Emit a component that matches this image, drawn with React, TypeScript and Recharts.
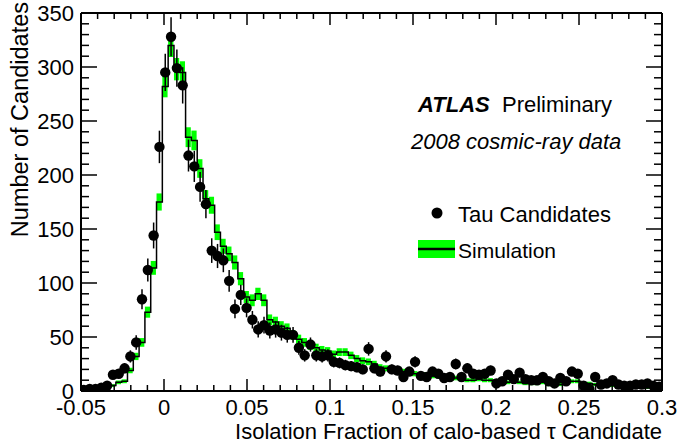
import React from 'react';
import { ComposedChart, XAxis, YAxis, Bar, Line, Scatter, ErrorBar } from 'recharts';

// histogram binning: 100 bins from -0.05 to 0.3
const binLow = -0.05;
const binWidth = 0.0035;

// observed tau candidates per bin
const dataCounts = [
    1, 2, 2, 3, 5, 15, 16, 21, 32, 45,
    85, 112, 144, 226, 295, 328, 299, 283, 218, 208,
    189, 173, 130, 125, 121, 102, 76, 89, 77, 66,
    57, 61, 56, 57, 54, 52, 52, 40, 33, 43,
    33, 32, 33, 27, 26, 24, 23, 22, 20, 39,
    21, 18, 32, 20, 19, 13, 18, 27, 14, 13,
    18, 16, 12, 13, 25, 13, 21, 16, 15, 16,
    19, 7, 9, 15, 11, 17, 11, 10, 10, 13,
    9, 7, 12, 9, 18, 16, 5, 2, 13, 6,
    7, 10, 6, 5, 5, 6, 6, 7, 5, 4,
];

// simulation (normalised) per bin
const simCounts = [
    1, 1, 2, 2, 3, 5, 8, 9, 19, 32,
    45, 73, 114, 175, 282, 320, 298, 295, 235, 232,
    206, 178, 172, 147, 134, 127, 119, 104, 87, 84,
    90, 84, 66, 64, 60, 58, 52, 48, 45, 42,
    40, 38, 37, 34, 36, 36, 33, 30, 28, 27,
    25, 22, 21, 20, 19, 18, 17, 16, 15, 15,
    14, 14, 13, 12, 12, 11, 10, 10, 11, 10,
    10, 9, 9, 8, 9, 8, 7, 7, 7, 8,
    6, 6, 6, 7, 9, 9, 7, 7, 6, 5,
    5, 5, 4, 4, 4, 4, 3, 3, 3, 3,
];

const xMajorTicks = [-0.05, 0, 0.05, 0.1, 0.15, 0.2, 0.25, 0.3];
const xTickLabels = ['-0.05', '0', '0.05', '0.1', '0.15', '0.2', '0.25', '0.3'];
const yMajorTicks = [0, 50, 100, 150, 200, 250, 300, 350];

const FONT = '"Liberation Sans", Arial, Helvetica, sans-serif';

const rows = dataCounts.map((n, i) => {
    const s = simCounts[i];
    const se = 0.6 * Math.sqrt(s);
    return {
        x: binLow + binWidth * (i + 0.5),
        data: n,
        err: Math.sqrt(n),
        sim: s,
        band: [s - se, s + se],
    };
});

// 4 minor ticks between majors
const withMinors = (majors: number[]) => {
    const out: number[] = [];
    majors.forEach((m, i) => {
        out.push(m);
        if (i < majors.length - 1) {
            const step = (majors[i + 1] - m) / 5;
            for (let k = 1; k < 5; k++) out.push(m + step * k);
        }
    });
    return out;
};
const xTicks = withMinors(xMajorTicks);
const yTicks = withMinors(yMajorTicks);

const majorIndex = (v: number, majors: number[]) =>
    majors.findIndex(m => Math.abs(m - v) < 1e-9);

const BottomTick = (props: any) => {
    const { x, y, payload } = props;
    const idx = majorIndex(payload.value, xMajorTicks);
    const major = idx >= 0;
    return (
        <g>
            <line x1={x} x2={x} y1={y} y2={y - (major ? 12 : 6)} stroke="#000" strokeWidth={1.5} />
            {major && (
                <text x={x} y={y + 24} textAnchor="middle" fontSize={22} fontFamily={FONT} fill="#000">
                    {xTickLabels[idx]}
                </text>
            )}
        </g>
    );
};

const TopTick = (props: any) => {
    const { x, y, payload } = props;
    const major = majorIndex(payload.value, xMajorTicks) >= 0;
    return <line x1={x} x2={x} y1={y} y2={y + (major ? 12 : 6)} stroke="#000" strokeWidth={1.5} />;
};

const LeftTick = (props: any) => {
    const { x, y, payload } = props;
    const major = majorIndex(payload.value, yMajorTicks) >= 0;
    return (
        <g>
            <line x1={x} x2={x + (major ? 16 : 8)} y1={y} y2={y} stroke="#000" strokeWidth={1.5} />
            {major && (
                <text x={x - 7} y={y + 8} textAnchor="end" fontSize={22} fontFamily={FONT} fill="#000">
                    {payload.value}
                </text>
            )}
        </g>
    );
};

const RightTick = (props: any) => {
    const { x, y, payload } = props;
    const major = majorIndex(payload.value, yMajorTicks) >= 0;
    return <line x1={x} x2={x - (major ? 16 : 8)} y1={y} y2={y} stroke="#000" strokeWidth={1.5} />;
};

const Dot = (props: any) => <circle cx={props.cx} cy={props.cy} r={5.2} fill="#000" />;

const axisLine = { stroke: '#000', strokeWidth: 2 };

const App = () => {
    return (
        <div style={{ position: 'absolute', left: 0, top: 0, width: 682, height: 443, background: '#fff' }}>
            <ComposedChart width={682} height={443} data={rows} margin={{ top: 0, right: 0, bottom: 0, left: 0 }}>
                <XAxis
                    dataKey="x"
                    type="number"
                    domain={[-0.05, 0.3]}
                    ticks={xTicks}
                    interval={0}
                    tick={<BottomTick />}
                    tickLine={false}
                    tickSize={0}
                    tickMargin={0}
                    height={52}
                    axisLine={axisLine}
                    allowDataOverflow
                />
                <XAxis
                    xAxisId="top"
                    orientation="top"
                    dataKey="x"
                    type="number"
                    domain={[-0.05, 0.3]}
                    ticks={xTicks}
                    interval={0}
                    tick={<TopTick />}
                    tickLine={false}
                    tickSize={0}
                    tickMargin={0}
                    height={13}
                    axisLine={axisLine}
                    allowDataOverflow
                />
                <YAxis
                    type="number"
                    domain={[0, 350]}
                    ticks={yTicks}
                    interval={0}
                    tick={<LeftTick />}
                    tickLine={false}
                    tickSize={0}
                    tickMargin={0}
                    width={81}
                    axisLine={axisLine}
                    allowDataOverflow
                />
                <YAxis
                    yAxisId="right"
                    orientation="right"
                    type="number"
                    domain={[0, 350]}
                    ticks={yTicks}
                    interval={0}
                    tick={<RightTick />}
                    tickLine={false}
                    tickSize={0}
                    tickMargin={0}
                    width={20}
                    axisLine={axisLine}
                    allowDataOverflow
                />
                <Bar dataKey="band" fill="#00ff00" barSize={581 / 100} isAnimationActive={false} />
                <Line
                    dataKey="sim"
                    type="step"
                    stroke="#000"
                    strokeWidth={1.5}
                    dot={false}
                    isAnimationActive={false}
                />
                <Scatter dataKey="data" shape={<Dot />} isAnimationActive={false}>
                    <ErrorBar dataKey="err" direction="y" width={0} stroke="#000" strokeWidth={1.5} />
                </Scatter>
            </ComposedChart>

            {/* text and legend overlay */}
            <svg
                width={682}
                height={443}
                style={{ position: 'absolute', left: 0, top: 0, pointerEvents: 'none' }}
                fontFamily={FONT}
            >
                <text x={418} y={112} fontSize={22} fontWeight="bold" fontStyle="italic" fill="#000">ATLAS</text>
                <text x={502} y={112} fontSize={22} fill="#000">Preliminary</text>
                <text x={411} y={149} fontSize={22} fontStyle="italic" fill="#000">2008 cosmic-ray data</text>

                <circle cx={437} cy={213} r={5.5} fill="#000" />
                <text x={458} y={222} fontSize={22} fill="#000">Tau Candidates</text>
                <rect x={418} y={240} width={37} height={18} fill="#00ff00" />
                <line x1={418} x2={455} y1={249} y2={249} stroke="#000" strokeWidth={2.5} />
                <text x={458} y={258} fontSize={21} fill="#000">Simulation</text>

                <text x={662} y={439} fontSize={22} textAnchor="end" fill="#000">
                    Isolation Fraction of calo-based τ Candidate
                </text>
                <text transform="translate(28,2) rotate(-90)" fontSize={23.5} textAnchor="end" fill="#000">
                    Number of Candidates
                </text>
            </svg>
        </div>
    );
};

export default App;
